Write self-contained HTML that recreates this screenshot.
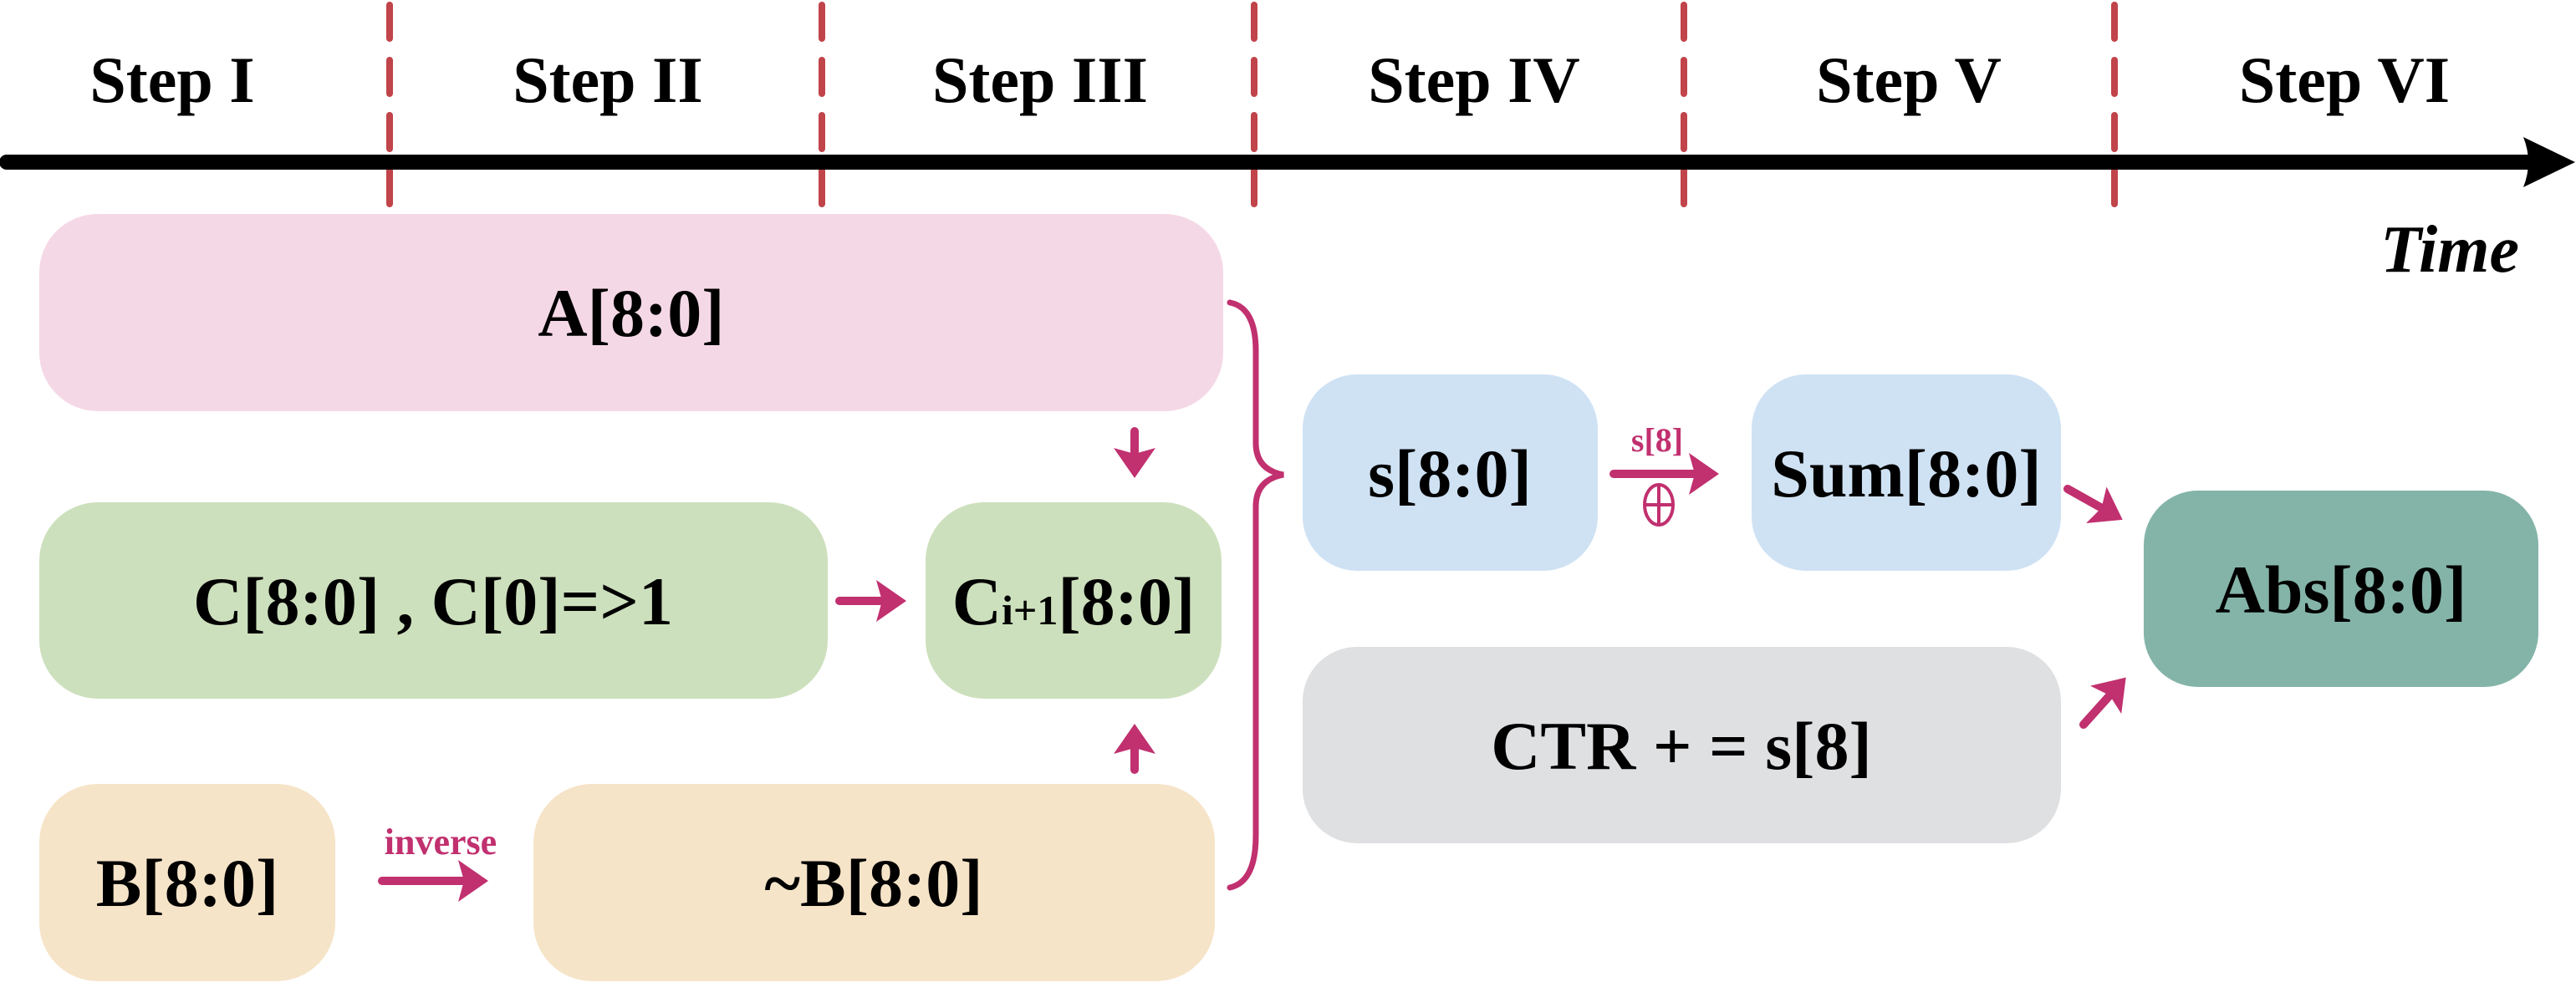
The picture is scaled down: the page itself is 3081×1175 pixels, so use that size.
<!DOCTYPE html>
<html><head><meta charset="utf-8"><style>
html,body{margin:0;padding:0;background:#fff;}
svg{display:block;}
text{font-family:"Liberation Serif",serif;font-weight:bold;}
</style></head><body>
<svg width="3081" height="1175" viewBox="0 0 3081 1175" xmlns="http://www.w3.org/2000/svg">
<defs>
<marker id="ah" markerWidth="5" markerHeight="5" refX="2.6" refY="2.5" orient="auto" markerUnits="strokeWidth">
<path d="M0,0 L3.6,2.5 L0,5 L0.7,2.5 Z" fill="#c1306f"/>
</marker>
</defs>
<g stroke="#c0444a" stroke-width="8" stroke-dasharray="40,26" stroke-linecap="round">
<line x1="466" y1="6" x2="466" y2="247"/>
<line x1="983" y1="6" x2="983" y2="247"/>
<line x1="1500" y1="6" x2="1500" y2="247"/>
<line x1="2014" y1="6" x2="2014" y2="247"/>
<line x1="2529" y1="6" x2="2529" y2="247"/>
</g>
<line x1="8" y1="194" x2="3025" y2="194" stroke="#000" stroke-width="18" stroke-linecap="round"/>
<path d="M3018,164 L3080,194 L3018,224 Q3030,194 3018,164Z" fill="#000"/>
<g font-size="78" text-anchor="middle" fill="#000">
<text x="206" y="122">Step I</text>
<text x="727" y="122">Step II</text>
<text x="1244" y="122">Step III</text>
<text x="1763" y="122">Step IV</text>
<text x="2283" y="122">Step V</text>
<text x="2804" y="122">Step VI</text>
</g>
<text x="3013" y="325" font-size="80" font-style="italic" text-anchor="end">Time</text>
<rect x="47" y="256" width="1416" height="236" rx="70" fill="#f5d8e6"/>
<rect x="47" y="601" width="943" height="235" rx="70" fill="#cde0bd"/>
<rect x="1107" y="601" width="354" height="235" rx="70" fill="#cde0bd"/>
<rect x="47" y="938" width="354" height="236" rx="70" fill="#f6e4c8"/>
<rect x="638" y="938" width="815" height="236" rx="70" fill="#f6e4c8"/>
<rect x="1558" y="448" width="353" height="235" rx="65" fill="#cfe2f4"/>
<rect x="2095" y="448" width="370" height="235" rx="65" fill="#cfe2f4"/>
<rect x="1558" y="774" width="907" height="235" rx="65" fill="#dfe0e2"/>
<rect x="2564" y="587" width="472" height="235" rx="65" fill="#84b4a8"/>
<g font-size="82" text-anchor="middle" fill="#000">
<text x="755" y="402">A[8:0]</text>
<text x="518" y="747">C[8:0] , C[0]=&gt;1</text>
<text x="1284" y="747">C<tspan font-size="50">i+1</tspan>[8:0]</text>
<text x="224" y="1084">B[8:0]</text>
<text x="1045" y="1084">~B[8:0]</text>
<text x="1734" y="594">s[8:0]</text>
<text x="2280" y="594">Sum[8:0]</text>
<text x="2011" y="920">CTR + = s[8]</text>
<text x="2800" y="733">Abs[8:0]</text>
</g>
<g stroke="#c1306f" stroke-width="10" fill="none" stroke-linecap="round">
<line x1="1357" y1="516" x2="1357" y2="562" marker-end="url(#ah)"/>
<line x1="1004" y1="719" x2="1074" y2="719" marker-end="url(#ah)"/>
<line x1="1357" y1="921" x2="1357" y2="876" marker-end="url(#ah)"/>
<line x1="457" y1="1054" x2="574" y2="1054" marker-end="url(#ah)"/>
<line x1="1930" y1="567" x2="2046" y2="567" marker-end="url(#ah)"/>
<line x1="2473" y1="585" x2="2530" y2="617" marker-end="url(#ah)"/>
<line x1="2492" y1="867" x2="2536" y2="818" marker-end="url(#ah)"/>
<path d="M1471,362 Q1502,368 1502,420 L1502,530 Q1502,562 1535,568 Q1502,574 1502,606 L1502,1000 Q1502,1055 1471,1062" stroke-width="7"/>
</g>
<g fill="#c1306f" text-anchor="middle">
<text x="527" y="1022" font-size="44">inverse</text>
<text x="1982" y="540" font-size="40">s[8]</text>
</g>
<g stroke="#c1306f" stroke-width="4" fill="none">
<ellipse cx="1984" cy="604" rx="17" ry="24"/>
<line x1="1967" y1="604" x2="2001" y2="604"/>
<line x1="1984" y1="580" x2="1984" y2="628"/>
</g>
</svg>
</body></html>
